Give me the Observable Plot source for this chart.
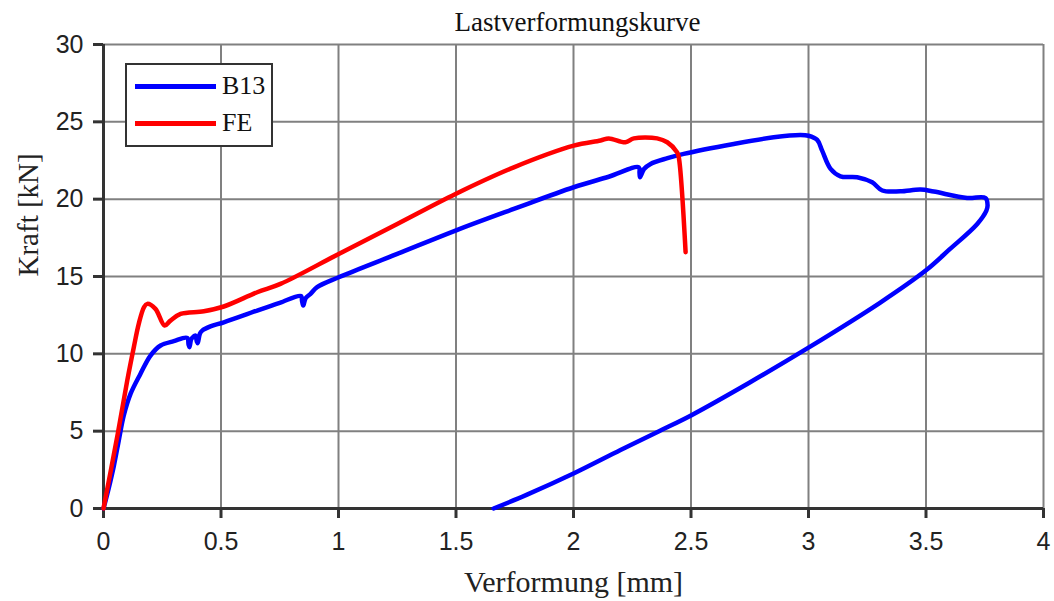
<!DOCTYPE html>
<html>
<head>
<meta charset="utf-8">
<script src="https://cdn.jsdelivr.net/npm/d3@7"></script>
<script src="https://cdn.jsdelivr.net/npm/@observablehq/plot@0.6"></script>
<style>
  html, body { margin: 0; padding: 0; background: #fff; }
  #wrap { position: relative; width: 1054px; height: 601px; }
  #legend { position: absolute; left: 125px; top: 63px; width: 148px; height: 84px; box-sizing: border-box;
            border: 2px solid #333; background: #fff; font-family: "Liberation Serif", "Times New Roman", serif; }
  .lg-line { position: absolute; left: 8px; width: 81px; height: 5px; }
  .lg-text { position: absolute; left: 95px; font-size: 26px; line-height: 26px; color: #111; }
</style>
</head>
<body>
<div id="wrap"></div>
<script>
// ---- data ----
const title = "Lastverformungskurve";
const xLabel = "Verformung [mm]";
const yLabel = "Kraft [kN]";
const xTicks = [0, 0.5, 1, 1.5, 2, 2.5, 3, 3.5, 4];
const yTicks = [0, 5, 10, 15, 20, 25, 30];
const seriesNames = ["B13", "FE"];
const seriesColors = ["#0000ff", "#ff0000"];

const b13X = [0, 0.022, 0.044, 0.065, 0.086, 0.115, 0.157, 0.2, 0.243, 0.299, 0.356, 0.362, 0.366, 0.372, 0.377, 0.391, 0.397, 0.401, 0.41, 0.42, 0.455, 0.512, 0.654, 0.75, 0.84, 0.845, 0.85, 0.86, 0.881, 0.909, 1.001, 1.25, 1.498, 1.746, 2.001, 2.15, 2.278, 2.281, 2.283, 2.3, 2.328, 2.4, 2.469, 2.682, 2.852, 2.966, 3.0, 3.037, 3.058, 3.094, 3.136, 3.207, 3.271, 3.314, 3.391, 3.477, 3.533, 3.675, 3.753, 3.762, 3.757, 3.718, 3.6, 3.5, 3.304, 3.0, 2.75, 2.5, 2.364, 2.2, 2.0, 1.8, 1.66];
const b13Y = [0, 1.3, 2.75, 4.4, 6.0, 7.41, 8.7, 9.89, 10.54, 10.82, 11.03, 10.6, 10.43, 10.9, 11.03, 11.18, 10.8, 10.69, 11.3, 11.5, 11.77, 12.04, 12.8, 13.3, 13.74, 13.4, 13.12, 13.6, 13.88, 14.31, 14.95, 16.46, 17.97, 19.37, 20.77, 21.45, 22.06, 21.7, 21.42, 21.95, 22.28, 22.65, 22.93, 23.57, 24.0, 24.15, 24.1, 23.83, 23.14, 21.96, 21.48, 21.42, 21.09, 20.56, 20.51, 20.62, 20.49, 20.08, 20.08, 19.6, 19.26, 18.4, 16.75, 15.4, 13.3, 10.4, 8.15, 6.02, 5.0, 3.78, 2.26, 0.88, 0];

const feX = [0, 0.058, 0.101, 0.129, 0.15, 0.172, 0.186, 0.221, 0.26, 0.285, 0.328, 0.427, 0.512, 0.654, 0.753, 1.001, 1.25, 1.498, 1.746, 2.001, 2.115, 2.15, 2.221, 2.257, 2.356, 2.399, 2.441, 2.448, 2.477];
const feY = [0, 4.61, 8.27, 10.43, 11.94, 13.01, 13.23, 12.91, 11.83, 12.15, 12.58, 12.75, 13.06, 13.98, 14.52, 16.46, 18.4, 20.34, 22.06, 23.46, 23.79, 23.93, 23.68, 23.93, 23.93, 23.68, 23.03, 22.71, 16.57];

const b13 = b13X.map((x, i) => ({x, y: b13Y[i]}));
const fe = feX.map((x, i) => ({x, y: feY[i]}));

const sansFont = "'Liberation Sans', Arial, sans-serif";
const serifFont = "'Liberation Serif', 'Times New Roman', serif";

const chart = Plot.plot({
  width: 1054,
  height: 601,
  marginLeft: 103,
  marginRight: 11,
  marginTop: 44,
  marginBottom: 93,
  style: {background: "#fff", color: "#222"},
  x: {domain: [0, 4], ticks: xTicks},
  y: {domain: [0, 30], ticks: yTicks},
  marks: [
    Plot.gridX(xTicks, {stroke: "#808080", strokeOpacity: 1, strokeWidth: 2}),
    Plot.gridY(yTicks, {stroke: "#808080", strokeOpacity: 1, strokeWidth: 2}),
    Plot.ruleX([0], {stroke: "#333", strokeWidth: 3}),
    Plot.ruleY([0], {stroke: "#333", strokeWidth: 3}),
    Plot.axisX(xTicks, {tickSize: 10, tickPadding: 14, strokeWidth: 3, stroke: "#333", fontSize: 25, fontFamily: sansFont, fill: "#222", tickFormat: d => String(d), label: null}),
    Plot.axisY(yTicks, {tickSize: 10, tickPadding: 10, strokeWidth: 3, stroke: "#333", fontSize: 25, fontFamily: sansFont, fill: "#222", tickFormat: d => String(d), label: null}),
    Plot.line(b13, {x: "x", y: "y", stroke: seriesColors[0], strokeWidth: 4.5, strokeLinejoin: "round", curve: "catmull-rom"}),
    Plot.line(fe, {x: "x", y: "y", stroke: seriesColors[1], strokeWidth: 4.5, strokeLinejoin: "round", curve: "catmull-rom"}),
    Plot.text([title], {text: d => d, frameAnchor: "top", lineAnchor: "bottom", dy: -14, dx: 4, fontSize: 27, fontFamily: serifFont, fill: "#111"}),
    Plot.text([xLabel], {text: d => d, frameAnchor: "bottom", lineAnchor: "bottom", dy: 83, fontSize: 30, fontFamily: serifFont, fill: "#222"}),
    Plot.text([yLabel], {text: d => d, frameAnchor: "left", lineAnchor: "bottom", rotate: -90, dx: -66, fontSize: 29, fontFamily: serifFont, fill: "#222"})
  ]
});

const wrap = document.getElementById("wrap");
wrap.appendChild(chart);

const legend = document.createElement("div");
legend.id = "legend";
seriesNames.forEach((name, i) => {
  const line = document.createElement("div");
  line.className = "lg-line";
  line.style.top = (19 + i * 37) + "px";
  line.style.background = seriesColors[i];
  legend.appendChild(line);
  const t = document.createElement("div");
  t.className = "lg-text";
  t.style.top = (8 + i * 37) + "px";
  t.textContent = name;
  legend.appendChild(t);
});
wrap.appendChild(legend);
</script>
</body>
</html>
